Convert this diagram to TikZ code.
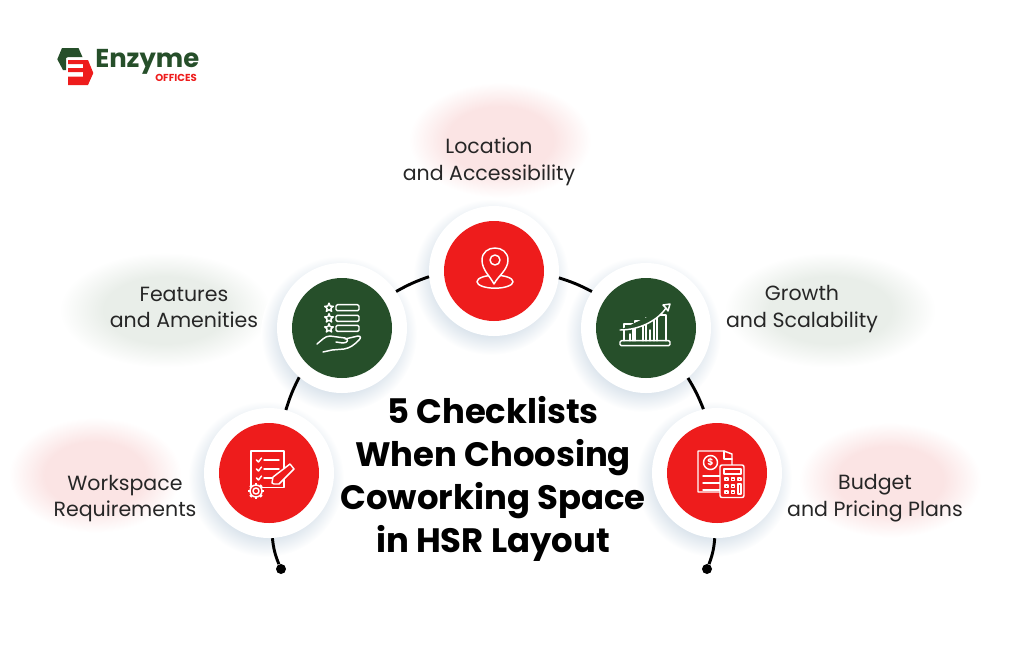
\documentclass[tikz,border=0pt]{standalone}
\usepackage{fontspec}
\setmainfont{Poppins}
\usetikzlibrary{positioning}
\definecolor{hubred}{HTML}{EE1C1C}
\definecolor{hubgreen}{HTML}{264F2A}
\definecolor{blobred}{HTML}{FBE4E4}
\definecolor{blobgreen}{HTML}{E9EEE9}
\definecolor{shadowc}{HTML}{D3DEE8}
\pgfdeclareradialshading{blobr}{\pgfpoint{0bp}{0bp}}{color(0bp)=(blobred); color(14bp)=(blobred); color(24bp)=(white); color(50bp)=(white)}
\pgfdeclareradialshading{blobg}{\pgfpoint{0bp}{0bp}}{color(0bp)=(blobgreen); color(14bp)=(blobgreen); color(24bp)=(white); color(50bp)=(white)}
\pgfdeclareradialshading{halo}{\pgfpoint{0bp}{0bp}}{color(0bp)=(shadowc); color(17bp)=(shadowc); color(25bp)=(white); color(50bp)=(white)}
\tikzset{
    ring/.style = {circle, fill=white, minimum size=97.5pt, inner sep=0pt},
    hubr/.style = {circle, fill=hubred, minimum size=75pt, inner sep=0pt},
    hubg/.style = {circle, fill=hubgreen, minimum size=75pt, inner sep=0pt},
    edgen/.style = {line width=2.2pt,black},
    tipdot/.style = {circle, fill=black, minimum size=7.5pt, inner sep=0pt},
    itemtext/.style = {align=center, font=\fontsize{15.4}{20}\selectfont, text=black!85},
    headtext/.style = {align=center, font=\fontsize{25.4}{32.2}\selectfont\bfseries, text=black},
    iconw/.style = {draw=white, line width=1.1pt, line join=round, line cap=round},
}
\begin{document}
\begin{tikzpicture}[x=0.75pt,y=-0.75pt]
\useasboundingbox (0,0) rectangle (1024,644);
% soft patches behind the texts
\shade[shading=blobr] (500,140) ellipse [x radius=95,y radius=60];
\shade[shading=blobg] (165,310) ellipse [x radius=110,y radius=60];
\shade[shading=blobg] (830,310) ellipse [x radius=110,y radius=60];
\shade[shading=blobr] (95,475) ellipse [x radius=90,y radius=60];
\shade[shading=blobr] (890,480) ellipse [x radius=95,y radius=60];
% shadows of the rings
\shade[shading=halo] (491,277) circle [radius=78];
\shade[shading=halo] (339,334) circle [radius=78];
\shade[shading=halo] (643,334) circle [radius=78];
\shade[shading=halo] (266,479) circle [radius=78];
\shade[shading=halo] (714,479) circle [radius=78];
% rings
\node[ring] at (494,271) (ringa) {};
\node[ring] at (342,328) (ringb) {};
\node[ring] at (646,328) (ringc) {};
\node[ring] at (269,473) (ringd) {};
\node[ring] at (717,473) (ringe) {};
\node[tipdot] at (281,569) (dotd) {};
\node[tipdot] at (707,569) (dote) {};
%
\draw[edgen] (ringa.185.4) to[bend right=5] (ringb.34);
\draw[edgen] (ringb.229.4) to[bend right=5] (ringd.75.7);
\draw[edgen] (ringd.273.6) to[bend right=8] (dotd);
\draw[edgen] (ringa.354.6) to[bend left=5] (ringc.146);
\draw[edgen] (ringc.310.6) to[bend left=5] (ringe.102.5);
\draw[edgen] (ringe.268.8) to[bend left=8] (dote);
%
\node[hubr] at (494,271) (huba) {};
\node[hubg] at (342,328) (hubb) {};
\node[hubg] at (646,328) (hubc) {};
\node[hubr] at (269,473) (hubd) {};
\node[hubr] at (717,473) (hube) {};
% texts
\node[itemtext] at (489,161.5) (texta) {Location\\and Accessibility};
\node[itemtext] at (184,307.5) (textb) {Features\\and Amenities};
\node[itemtext] at (802,309) (textc) {Growth\\and Scalability};
\node[itemtext] at (125,498.5) (textd) {Workspace\\Requirements};
\node[itemtext] at (875,498) (texte) {Budget\\and Pricing Plans};
\node[headtext] at (493,479) (title) {5 Checklists\\When Choosing\\Coworking Space\\in HSR Layout};
% location icon
\draw[iconw] (495,281.7) ellipse [x radius=18,y radius=6.5];
\draw[iconw,fill=hubred] (494,284) .. controls (490,276) and (482,270) .. (482,260) .. controls (482,244) and (508,244) .. (508,260) .. controls (508,270) and (498,276) .. (494,284) -- cycle;
\draw[iconw] (495,260) circle [radius=5];
% features icon
\foreach \sy in {307.7,318.3,328.3} {
  \draw[iconw,shift={(329,\sy)}] (0,-4.5) -- (1.2,-1.6) -- (4.3,-1.4) -- (1.9,0.6) -- (2.6,3.6) -- (0,2) -- (-2.6,3.6) -- (-1.9,0.6) -- (-4.3,-1.4) -- (-1.2,-1.6) -- cycle;
  \draw[iconw,rounded corners=1pt] (336,\sy-3) rectangle (359,\sy+3);
}
\draw[iconw] (317,344) .. controls (322,340) and (325,336) .. (330,336) -- (345,338) .. controls (349,339) and (348,343) .. (343,343) -- (336,342);
\draw[iconw] (345,339) -- (358,336) .. controls (361,336) and (361,338) .. (359,340) .. controls (354,345) and (350,348) .. (344,349) -- (332,350) -- (323,352);
% growth icon
\draw[iconw,rounded corners=1pt] (620,340.7) rectangle (670,345.7);
\foreach \bx/\bw/\by in {624/9/324,635/8/321,646/8/318,657/9/315} {
  \draw[iconw] (\bx,340.7) -- (\bx,\by) -- (\bx+\bw,\by) -- (\bx+\bw,340.7);
}
\draw[iconw,fill=hubgreen] (620,330) .. controls (640,330) and (658,320) .. (666,308) -- (668,311) -- (670,304) -- (663,305) -- (666,308);
\draw[iconw] (630,340.7) -- (630,334) (650,340.7) -- (650,330);
% workspace icon
\draw[iconw] (251,451) rectangle (284,487.7);
\foreach \cy in {460,469,478} {
  \draw[iconw] (256.5,\cy) -- (258.5,\cy+2) -- (261.5,\cy-2);
  \draw[iconw] (264,\cy) -- (279,\cy);
}
\draw[iconw,fill=hubred] (274,484) -- (272,483) -- (273,477) -- (290,464) -- (294,469) -- (279,484) -- cycle;
\draw[iconw,fill=hubred,shift={(256,491)}] (0,0) circle [radius=6];
\foreach \ga in {0,45,...,315} {
  \draw[draw=white,line width=2pt,shift={(256,491)}] (\ga:6) -- (\ga:8);
}
\draw[iconw,fill=hubred] (256,491) circle [radius=3];
% budget icon
\draw[iconw] (732,469) -- (732,454) -- (724,451) -- (698,451) -- (698,492) -- (720,492);
\draw[iconw] (724,451) -- (724,459) -- (732,459);
\draw[iconw] (710.5,462.5) circle [radius=7];
\node[font=\fontsize{7}{7}\selectfont\bfseries,text=white,inner sep=0pt] at (710.5,462.5) (dollar) {\$};
\foreach \ly in {476,483,490} {
  \draw[iconw] (703,\ly) -- (720,\ly);
}
\draw[iconw,rounded corners=1.5pt,fill=hubred] (720,465) rectangle (744,497.5);
\draw[iconw] (724,469) rectangle (741,474);
\foreach \kx in {725,731.5} {
  \foreach \ky in {478,485,491} {
    \draw[iconw,line width=.8pt] (\kx,\ky) rectangle (\kx+3,\ky+2.5);
  }
}
\draw[iconw,line width=.8pt] (738,478) rectangle (741,480.5);
\draw[iconw,line width=.8pt] (738,484) rectangle (741,494);
% logo
\fill[hubgreen] (62,48) -- (78.5,48) -- (82.5,57) -- (68,57) -- (66,58) -- (66,70) -- (63,70) -- (57.3,59.3) -- cycle;
\fill[hubred] (68,60) -- (88,60) -- (93.3,73) -- (88,85) -- (68,85) -- (68,76.7) -- (83,76.7) -- (83,72) -- (68,72) -- (68,68) -- (83,68) -- (83,64) -- (68,64) -- cycle;
\node[font=\fontsize{19.4}{20}\selectfont\bfseries,text=hubgreen,inner sep=0pt,anchor=west] at (95,62) (logoa) {Enzyme};
\node[font=\fontsize{7.6}{8}\selectfont\bfseries,text=hubred,inner sep=0pt,anchor=east] at (197,78) (logob) {OFFICES};
\end{tikzpicture}
\end{document}
